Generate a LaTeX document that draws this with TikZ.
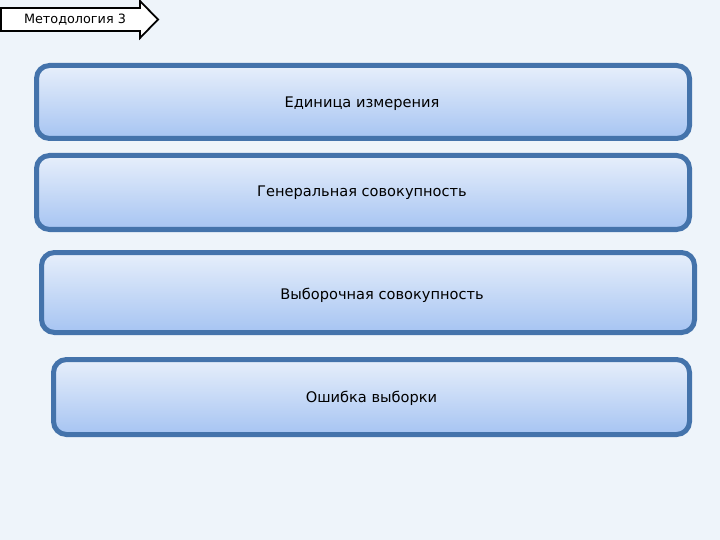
\documentclass[tikz,border=0pt]{standalone}
\usepackage{fontspec}
\setmainfont{DejaVu Sans}
\definecolor{bg}{HTML}{EEF4FA}
\definecolor{bord}{HTML}{4473AB}
\definecolor{ftop}{HTML}{E7EFFB}
\definecolor{fbot}{HTML}{A6C4F2}
\tikzset{
  box/.style={draw=bord, line width=5pt, rounded corners=13pt, top color=ftop, bottom color=fbot, inner sep=0pt, anchor=center},
  txt/.style={font=\fontsize{14.6}{17}\selectfont, text=black, inner sep=0pt, anchor=center},
  tag/.style={draw=black, line width=1.8pt, fill=white}
}
\begin{document}
\begin{tikzpicture}[x=1pt,y=-1pt]
\fill[bg] (0,0) rectangle (720,540);
\useasboundingbox (0,0) rectangle (720,540);
\node[box, minimum width=653pt, minimum height=73pt] (b1) at (363,102) {};
\node[box, minimum width=653pt, minimum height=74pt] (b2) at (363,192.5) {};
\node[box, minimum width=653pt, minimum height=80pt] (b3) at (368,292.5) {};
\node[box, minimum width=636pt, minimum height=75pt] (b4) at (371.5,397) {};
\node[txt] (t1) at (362,104) {Единица измерения};
\node[txt] (t2) at (362,193) {Генеральная совокупность};
\node[txt] (t3) at (382,295) {Выборочная совокупность};
\node[txt] (t4) at (371.5,398) {Ошибка выборки};
\draw[tag] (1,8) -- (140,8) -- (140,1) -- (158,19.5) -- (140,38) -- (140,31) -- (1,31) -- cycle;
\node[txt, font=\fontsize{12.8}{15}\selectfont] (tag) at (75,19.5) {Методология 3};
\end{tikzpicture}
\end{document}
